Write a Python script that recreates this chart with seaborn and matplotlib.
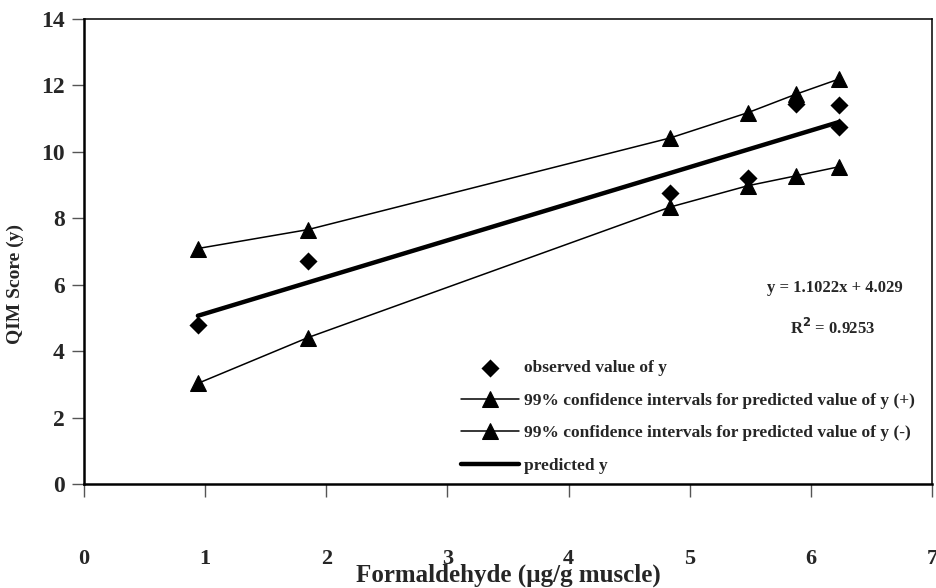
import matplotlib
matplotlib.use("Agg")
import matplotlib.pyplot as plt
import seaborn as sns
import pandas as pd

# Observed QIM scores against formaldehyde content
obs_x = [0.94, 1.85, 4.84, 5.48, 5.88, 6.23, 6.23]
obs_y = [4.8, 6.7, 8.75, 9.2, 11.45, 11.4, 10.75]

# 99% confidence limits for the predicted value
ci_x = [0.94, 1.85, 4.84, 5.48, 5.88, 6.23]
ci_upper = [7.09, 7.66, 10.42, 11.18, 11.74, 12.19]
ci_lower = [3.03, 4.41, 8.34, 8.98, 9.28, 9.55]

# Least-squares fit
slope = 1.1022
intercept = 4.029
r_squared = 0.9253

x_ticks = [0, 1, 2, 3, 4, 5, 6, 7]
y_ticks = [0, 2, 4, 6, 8, 10, 12, 14]

label_obs = "observed value of y"
label_up = "99% confidence intervals for predicted value of y (+)"
label_lo = "99% confidence intervals for predicted value of y (-)"
label_pred = "predicted y"

sns.set_style("white")
plt.rcParams["font.family"] = ["Liberation Serif", "DejaVu Serif"]
plt.rcParams["font.weight"] = "bold"

obs = pd.DataFrame({"x": obs_x, "y": obs_y})
ci = pd.DataFrame({"x": ci_x, "upper": ci_upper, "lower": ci_lower})
fit_x = [min(obs_x), max(obs_x)]
fit = pd.DataFrame({"x": fit_x, "y": [slope * v + intercept for v in fit_x]})

fig = plt.figure(figsize=(9.36, 5.88), dpi=100)
ax = fig.add_axes([84 / 936, 1 - 484 / 588, (932 - 84) / 936, (484 - 19) / 588])

sns.scatterplot(data=obs, x="x", y="y", marker="D", s=85, color="black",
                edgecolor="black", linewidth=0, label=label_obs, ax=ax, zorder=4)
sns.lineplot(data=ci, x="x", y="upper", marker="^", markersize=11, color="black",
             markeredgecolor="black", lw=1.1, label=label_up, ax=ax, estimator=None)
sns.lineplot(data=ci, x="x", y="lower", marker="^", markersize=11, color="black",
             markeredgecolor="black", lw=1.1, label=label_lo, ax=ax, estimator=None)
sns.lineplot(data=fit, x="x", y="y", color="black", lw=3.2, label=label_pred,
             ax=ax, estimator=None)

ax.set_xlim(0, 7)
ax.set_ylim(0, 14)
ax.set_xticks(x_ticks)
ax.set_yticks(y_ticks)
ax.tick_params(axis="both", direction="out", length=9, width=1, color="#555555",
               labelsize=16, bottom=True, left=True)
ax.tick_params(axis="x", pad=38)
ax.tick_params(axis="y", pad=5, labelsize=17)
for lbl in ax.get_xticklabels() + ax.get_yticklabels():
    lbl.set_fontweight("bold")

for side in ["left", "bottom"]:
    ax.spines[side].set_color("black")
    ax.spines[side].set_linewidth(1.8)
for side in ["right", "top"]:
    ax.spines[side].set_visible(True)
    ax.spines[side].set_color("black")
    ax.spines[side].set_linewidth(1.1)

ax.set_xlabel("Formaldehyde (µg/g muscle)", fontsize=18, fontweight="bold")
ax.xaxis.set_label_coords(0.5, -0.196)
ax.xaxis.label.set_va("center")
ax.set_ylabel("QIM Score (y)", fontsize=14, fontweight="bold")
ax.yaxis.set_label_coords(-0.081, 0.43)
ax.yaxis.label.set_va("center")

ax.text(0.965, 0.422, f"y = {slope}x + {intercept}", transform=ax.transAxes,
        ha="right", va="center", fontsize=12, fontweight="bold")
ax.text(0.933, 0.335, f"R$^\\mathbf{{2}}$ = {r_squared}", transform=ax.transAxes,
        ha="right", va="center", fontsize=12, fontweight="bold")

handles, labels = ax.get_legend_handles_labels()
ax.legend(handles, labels, loc="upper left", bbox_to_anchor=(461 / 936, 1 - 360 / 588),
          bbox_transform=fig.transFigure, frameon=False, numpoints=1,
          handlelength=3.35, handletextpad=0.3, labelspacing=0.95, borderpad=0,
          borderaxespad=0, prop={"size": 12.5, "weight": "bold"})

fig.savefig("out.png", dpi=100)
